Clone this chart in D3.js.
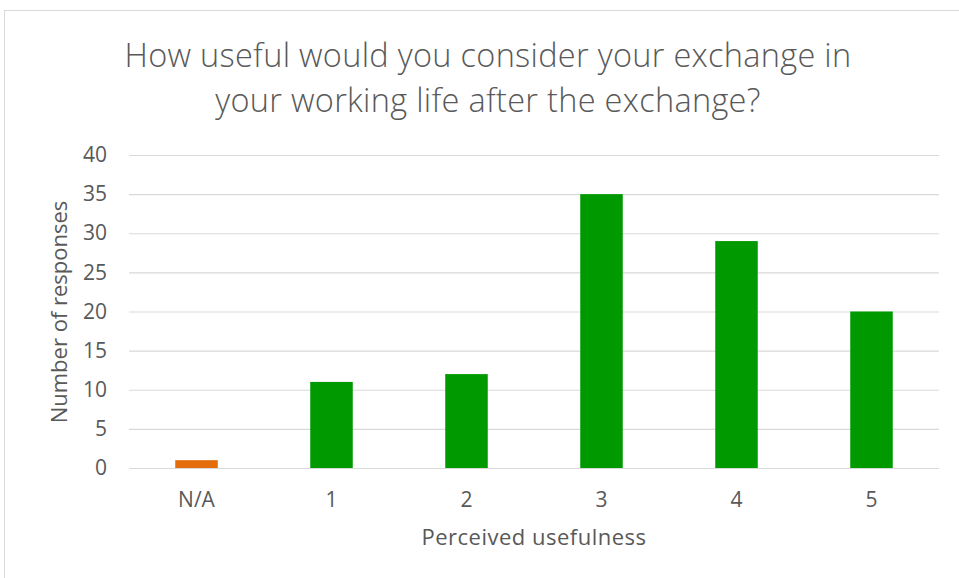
<!DOCTYPE html>
<html>
<head>
<meta charset="utf-8">
<script src="https://cdn.jsdelivr.net/npm/d3@7"></script>
<style>
  body { margin: 0; background: #fff; }
  svg { display: block; font-family: "Open Sans", sans-serif; }
  .tick text { fill: #595959; }
</style>
</head>
<body>
<div id="wrapper"></div>
<script>
// data
const categories = ["N/A", "1", "2", "3", "4", "5"];
const responses = [1, 11, 12, 35, 29, 20];
const barColors = ["#e46c0a", "#009900", "#009900", "#009900", "#009900", "#009900"];
const yTicks = [0, 5, 10, 15, 20, 25, 30, 35, 40];
const titleLines = ["How useful would you consider your exchange in", "your working life after the exchange?"];

const width = 959;
const height = 578;
const plot = { left: 129, right: 939, top: 155, bottom: 468 };

const svg = d3.select("#wrapper")
  .append("svg")
    .attr("width", width)
    .attr("height", height);

// chart frame
svg.append("rect")
    .attr("x", 4.5)
    .attr("y", 10.5)
    .attr("width", 980)
    .attr("height", 600)
    .attr("fill", "#fff")
    .attr("stroke", "#d9d9d9");

const x = d3.scaleBand()
  .domain(categories)
  .range([plot.left, plot.right])
  .paddingInner(0.685)
  .paddingOuter(0.3425);

const y = d3.scaleLinear()
  .domain([0, 40])
  .range([plot.bottom, plot.top]);

// gridlines + y labels
const yAxis = svg.append("g")
    .attr("transform", `translate(${plot.left},0)`)
    .call(d3.axisLeft(y).tickValues(yTicks).tickSize(-(plot.right - plot.left)).tickPadding(22));
yAxis.select(".domain").remove();
yAxis.selectAll(".tick line")
    .attr("stroke", "#d9d9d9")
    .attr("stroke-width", 1.2);
yAxis.selectAll(".tick text")
    .attr("font-size", 21)
    .attr("font-family", "Open Sans, sans-serif");

// bars
svg.append("g")
  .selectAll("rect")
  .data(responses)
  .join("rect")
    .attr("x", (d, i) => x(categories[i]))
    .attr("y", d => y(d))
    .attr("width", x.bandwidth())
    .attr("height", d => y(0) - y(d))
    .attr("fill", (d, i) => barColors[i]);

// x labels
const xAxis = svg.append("g")
    .attr("transform", `translate(0,${plot.bottom})`)
    .call(d3.axisBottom(x).tickSize(0).tickPadding(24));
xAxis.select(".domain").remove();
xAxis.selectAll(".tick text")
    .attr("font-size", 21)
    .attr("font-family", "Open Sans, sans-serif");

// titles
svg.append("text")
    .attr("text-anchor", "middle")
    .attr("fill", "#595959")
    .attr("font-size", 32.5)
    .attr("font-weight", 300)
    .attr("letter-spacing", 0.3)
    .selectAll("tspan")
    .data(titleLines)
    .join("tspan")
      .attr("x", 488)
      .attr("y", (d, i) => 67 + i * 45)
      .text(d => d);

svg.append("text")
    .attr("x", 534)
    .attr("y", 545)
    .attr("text-anchor", "middle")
    .attr("fill", "#595959")
    .attr("font-size", 22)
    .attr("letter-spacing", 0.5)
    .text("Perceived usefulness");

svg.append("text")
    .attr("transform", "translate(67,312) rotate(-90)")
    .attr("text-anchor", "middle")
    .attr("fill", "#595959")
    .attr("font-size", 22)
    .text("Number of responses");
</script>
</body>
</html>
